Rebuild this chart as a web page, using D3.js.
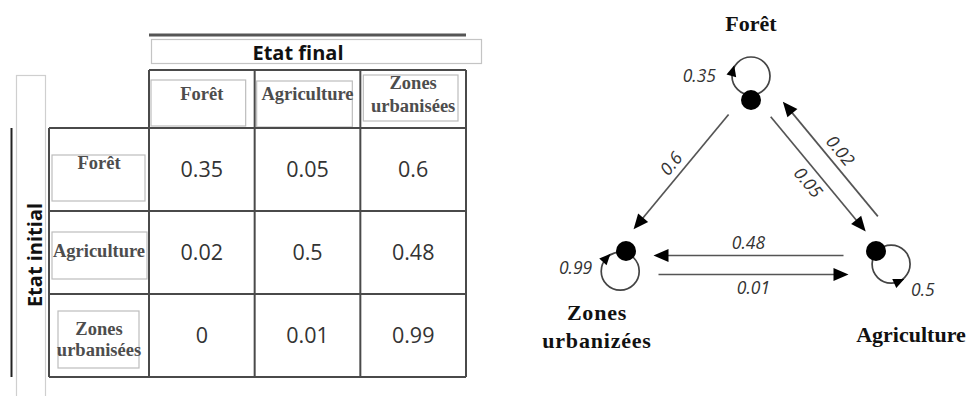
<!DOCTYPE html>
<html><head><meta charset="utf-8">
<script src="https://cdn.jsdelivr.net/npm/d3@7/dist/d3.min.js"></script>
<style>html,body{margin:0;padding:0;background:#fff;} svg{display:block;}</style>
</head><body>
<svg id="chart" width="972" height="396"></svg>
<script>
// ---------- data ----------
const states = ["Forêt", "Agriculture", "Zones urbanisées"];
const tableHeaderLines = [["Forêt"], ["Agriculture"], ["Zones", "urbanisées"]];
const diagramNodeLines = [["Forêt"], ["Agriculture"], ["Zones", "urbanizées"]];
const rowForet = [0.35, 0.05, 0.6];
const rowAgriculture = [0.02, 0.5, 0.48];
const rowZones = [0, 0.01, 0.99];
const matrix = [rowForet, rowAgriculture, rowZones];
const titleFinal = "Etat final";
const titleInitial = "Etat initial";

// ---------- layout / style (not data) ----------
const svg = d3.select("#chart");
const lineCol = "#4a4a4a";
const colX = d3.scaleBand().domain(d3.range(3)).range([149, 466]);
const rowY = d3.scaleBand().domain(d3.range(3)).range([128, 377]);
const headTop = 70, labLeft = 49;
// inner label-box insets [left,right,top,bottom]
const headInsets = [[2, 9, 10, 2], [2, 8, 11, 1], [3, 8, 5, 7]];
const rowInsets = [[3, 4, 27, 10], [3, 2, 21, 15], [9, 10, 17, 9]];
const headBase = [[100], [100], [89, 112]];
const rowBaseOff = [[41], [46], [41, 62]];

// top decorations
svg.append("line").attr("x1", 149).attr("x2", 466).attr("y1", 35).attr("y2", 35)
  .attr("stroke", "#555").attr("stroke-width", 3);
svg.append("rect").attr("x", 151.5).attr("y", 39.5).attr("width", 330).attr("height", 24)
  .attr("fill", "none").attr("stroke", "#c4c4c4").attr("stroke-width", 1.2);
svg.append("text").attr("x", 298).attr("y", 60).attr("text-anchor", "middle")
  .attr("font-family", "Open Sans").attr("font-weight", 700).attr("font-size", 20)
  .attr("fill", "#111").text(titleFinal);

// left decorations
svg.append("rect").attr("x", 16.5).attr("y", 75.5).attr("width", 29).attr("height", 340)
  .attr("fill", "none").attr("stroke", "#cfcfcf").attr("stroke-width", 1.2);
svg.append("line").attr("x1", 11.5).attr("x2", 11.5).attr("y1", 128).attr("y2", 377)
  .attr("stroke", "#222").attr("stroke-width", 2);
svg.append("text").attr("transform", "translate(42,255) rotate(-90)").attr("text-anchor", "middle")
  .attr("font-family", "Open Sans").attr("font-weight", 700).attr("font-size", 20)
  .attr("fill", "#111").text(titleInitial);

// inner label boxes
const g = svg.append("g");
states.forEach((s, i) => {
  const [l, r, t, b] = headInsets[i];
  g.append("rect").attr("x", colX(i) + l).attr("y", headTop + t)
    .attr("width", colX.bandwidth() - l - r).attr("height", rowY.range()[0] - headTop - t - b)
    .attr("fill", "none").attr("stroke", "#bdbdbd").attr("stroke-width", 1.2);
  const [l2, r2, t2, b2] = rowInsets[i];
  g.append("rect").attr("x", labLeft + l2).attr("y", rowY(i) + t2)
    .attr("width", colX.range()[0] - labLeft - l2 - r2).attr("height", rowY.bandwidth() - t2 - b2)
    .attr("fill", "none").attr("stroke", "#bdbdbd").attr("stroke-width", 1.2);
});

// grid lines
const grid = svg.append("g").attr("stroke", lineCol).attr("stroke-width", 2).attr("fill", "none");
grid.append("line").attr("x1", colX.range()[0]).attr("x2", colX.range()[1]).attr("y1", headTop).attr("y2", headTop);
grid.append("line").attr("x1", labLeft).attr("x2", labLeft).attr("y1", rowY.range()[0]).attr("y2", rowY.range()[1]);
d3.range(4).forEach(k => {
  const x = k < 3 ? colX(k) : colX.range()[1];
  grid.append("line").attr("x1", x).attr("x2", x).attr("y1", headTop).attr("y2", rowY.range()[1]);
  const y = k < 3 ? rowY(k) : rowY.range()[1];
  grid.append("line").attr("x1", labLeft).attr("x2", colX.range()[1]).attr("y1", y).attr("y2", y);
});

// header texts
const serifGray = sel => sel.attr("font-family", "Liberation Serif").attr("font-weight", 700)
  .attr("font-size", 18.5).attr("fill", "#4d4d4d").attr("text-anchor", "middle");
tableHeaderLines.forEach((lines, i) => {
  lines.forEach((ln, k) => {
    svg.append("text").call(serifGray).attr("x", colX(i) + colX.bandwidth() / 2)
      .attr("y", headBase[i][k]).text(ln);
  });
});
tableHeaderLines.forEach((lines, i) => {
  lines.forEach((ln, k) => {
    svg.append("text").call(serifGray).attr("x", (labLeft + colX.range()[0]) / 2)
      .attr("y", rowY(i) + rowBaseOff[i][k]).text(ln);
  });
});

// values
matrix.forEach((row, i) => row.forEach((v, j) => {
  svg.append("text").attr("x", colX(j) + colX.bandwidth() / 2).attr("y", rowY(i) + rowY.bandwidth() / 2)
    .attr("dy", "0.36em").attr("text-anchor", "middle")
    .attr("font-family", "Open Sans").attr("font-size", 21.5).attr("fill", "#333").text(String(v));
}));

// ---------- diagram ----------
const nodeX = d3.scalePoint().domain([states[2], states[0], states[1]]).range([626, 876]);
const nodeY = d3.scalePoint().domain(["top", "bottom"]).range([100, 251]);
const pos = i => [nodeX(states[i]), nodeY(i === 0 ? "top" : "bottom")];
const centroid = [d3.mean(d3.range(3), i => pos(i)[0]), d3.mean(d3.range(3), i => pos(i)[1])];
const edgeCol = "#555";
const dg = svg.append("g");

// loop styling per node: angle (deg) of loop centre, distance, arrow angle, direction, label offset & anchor
const loopCfg = [
  {ang: -90, dist: 24, arrow: 195, dir: 1, lx: -35, ly: 0, anchor: "end"},
  {ang: 41, dist: 20, arrow: 66, dir: -1, lx: 20, ly: 26, anchor: "start"},
  {ang: 106, dist: 21, arrow: 223, dir: 1, lx: -28, ly: -3, anchor: "end"}
];
const nodeLabelCfg = [
  {dx: 0, dy: [-69]},
  {dx: 35, dy: [91]},
  {dx: -29, dy: [69, 97]}
];
const italic = sel => sel.attr("font-family", "Open Sans").attr("font-style", "italic")
  .attr("font-size", 17.5).attr("fill", "#333");

// edges
const edges = [];
matrix.forEach((row, i) => row.forEach((v, j) => { if (i !== j && v > 0) edges.push({i, j, v}); }));
edges.forEach(e => {
  const p = pos(e.i), q = pos(e.j);
  const dx = q[0] - p[0], dy = q[1] - p[1], L = Math.hypot(dx, dy);
  const u = [dx / L, dy / L], rt = [-u[1], u[0]];
  const mid = [(p[0] + q[0]) / 2, (p[1] + q[1]) / 2];
  const outSign = ((mid[0] - centroid[0]) * rt[0] + (mid[1] - centroid[1]) * rt[1]) > 0 ? 1 : -1;
  const n = [rt[0] * outSign, rt[1] * outSign];
  const rev = matrix[e.j][e.i] > 0;
  const off = rev ? [n[0] * 14 + rt[0] * 9.5, n[1] * 14 + rt[1] * 9.5] : [n[0] * 8, n[1] * 8];
  const s = [p[0] + dx * 0.13 + off[0], p[1] + dy * 0.13 + off[1]];
  const t = [p[0] + dx * 0.89 + off[0], p[1] + dy * 0.89 + off[1]];
  const aL = 15, aW = 6.5;
  dg.append("line").attr("x1", s[0]).attr("y1", s[1])
    .attr("x2", t[0] - u[0] * (aL - 2)).attr("y2", t[1] - u[1] * (aL - 2))
    .attr("stroke", edgeCol).attr("stroke-width", 1.7);
  const b = [t[0] - u[0] * aL, t[1] - u[1] * aL];
  dg.append("path").attr("d", d3.line()([t, [b[0] + rt[0] * aW, b[1] + rt[1] * aW], [b[0] - rt[0] * aW, b[1] - rt[1] * aW]]) + "Z")
    .attr("fill", "#000");
  let deg = Math.atan2(u[1], u[0]) * 180 / Math.PI;
  if (deg > 90) deg -= 180; if (deg < -90) deg += 180;
  const lm = [(s[0] + t[0]) / 2 + rt[0] * 13, (s[1] + t[1]) / 2 + rt[1] * 13];
  dg.append("text").call(italic).attr("text-anchor", "middle").attr("dy", "0.35em")
    .attr("transform", `translate(${lm[0]},${lm[1]}) rotate(${deg})`).text(String(e.v));
});

// loops + nodes
states.forEach((s, i) => {
  const p = pos(i), c = loopCfg[i], r = 19;
  const a = c.ang * Math.PI / 180;
  const lc = [p[0] + Math.cos(a) * c.dist, p[1] + Math.sin(a) * c.dist];
  dg.append("circle").attr("cx", lc[0]).attr("cy", lc[1]).attr("r", r)
    .attr("fill", "none").attr("stroke", "#444").attr("stroke-width", 1.7);
  const t = c.arrow * Math.PI / 180;
  const P = [lc[0] + Math.cos(t) * r, lc[1] + Math.sin(t) * r];
  const d = [-Math.sin(t) * c.dir, Math.cos(t) * c.dir], pp = [-d[1], d[0]];
  const tip = [P[0] + d[0] * 6, P[1] + d[1] * 6], bb = [P[0] - d[0] * 5, P[1] - d[1] * 5];
  dg.append("path").attr("d", d3.line()([tip, [bb[0] + pp[0] * 5, bb[1] + pp[1] * 5], [bb[0] - pp[0] * 5, bb[1] - pp[1] * 5]]) + "Z")
    .attr("fill", "#000");
  dg.append("text").call(italic).attr("text-anchor", c.anchor)
    .attr("x", lc[0] + c.lx).attr("y", lc[1] + c.ly).attr("dy", "0.35em").text(String(matrix[i][i]));
  dg.append("circle").attr("cx", p[0]).attr("cy", p[1]).attr("r", 10).attr("fill", "#000");
  const nl = nodeLabelCfg[i];
  diagramNodeLines[i].forEach((ln, k) => {
    dg.append("text").attr("x", p[0] + nl.dx).attr("y", p[1] + nl.dy[k]).attr("text-anchor", "middle")
      .attr("font-family", "Liberation Serif").attr("font-weight", 700).attr("font-size", 22)
      .attr("letter-spacing", k === 1 || i === 2 ? 0.8 : 0).attr("fill", "#111").text(ln);
  });
});
</script>
</body></html>
